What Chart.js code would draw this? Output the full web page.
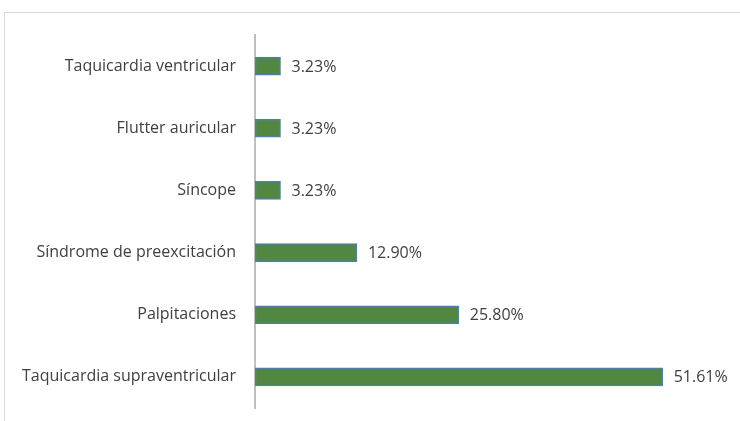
<!DOCTYPE html>
<html>
<head>
<meta charset="utf-8">
<script src="https://cdn.jsdelivr.net/npm/chart.js@4/dist/chart.umd.min.js"></script>
<style>
  html, body { margin: 0; padding: 0; background: #fff; }
  #wrap { position: relative; width: 740px; height: 421px; overflow: hidden; }
  #frame {
    position: absolute; left: 4px; top: 12px; width: 800px; height: 500px;
    border: 1px solid #d9d9d9; box-sizing: border-box;
  }
  #chart { position: absolute; left: 0; top: 0; }
</style>
</head>
<body>
<div id="wrap">
  <div id="frame"></div>
  <canvas id="chart" width="740" height="421"></canvas>
</div>
<script>
const categories = [
  'Taquicardia ventricular',
  'Flutter auricular',
  'Síncope',
  'Síndrome de preexcitación',
  'Palpitaciones',
  'Taquicardia supraventricular',
];
const percentages = [3.23, 3.23, 3.23, 12.90, 25.80, 51.61];

const textColor = '#404040';
const fontFamily = '"Open Sans", sans-serif';

// Writes the percentage to the right of each bar.
const valueLabels = {
  id: 'valueLabels',
  afterDatasetsDraw(chart) {
    const { ctx } = chart;
    const meta = chart.getDatasetMeta(0);
    ctx.save();
    ctx.fillStyle = textColor;
    ctx.font = `16px ${fontFamily}`;
    ctx.textAlign = 'left';
    ctx.textBaseline = 'middle';
    meta.data.forEach((bar, i) => {
      ctx.fillText(percentages[i].toFixed(2) + '%', bar.x + 11, bar.y + 1);
    });
    ctx.restore();
  },
};

new Chart(document.getElementById('chart'), {
  type: 'bar',
  data: {
    labels: categories,
    datasets: [{
      data: percentages,
      backgroundColor: '#518740',
      borderColor: '#4f7fa6',
      borderWidth: 1.5,
      borderSkipped: false,
      barThickness: 18,
    }],
  },
  options: {
    indexAxis: 'y',
    responsive: false,
    animation: false,
    layout: { padding: { top: 35, bottom: 13, left: 0, right: 11 } },
    scales: {
      x: { display: false, min: 0, max: 60 },
      y: {
        grid: { display: false, drawTicks: false },
        border: { display: true, color: '#bfbfbf', width: 2 },
        ticks: {
          color: textColor,
          padding: 19,
          font: { family: fontFamily, size: 16 },
        },
        afterFit(scale) {
          scale.width = 255;
          // keep label half-heights from shrinking the plot area
          scale.paddingTop = 0;
          scale.paddingBottom = 0;
        },
      },
    },
    plugins: {
      legend: { display: false },
      tooltip: { enabled: false },
    },
  },
  plugins: [valueLabels],
});
</script>
</body>
</html>
